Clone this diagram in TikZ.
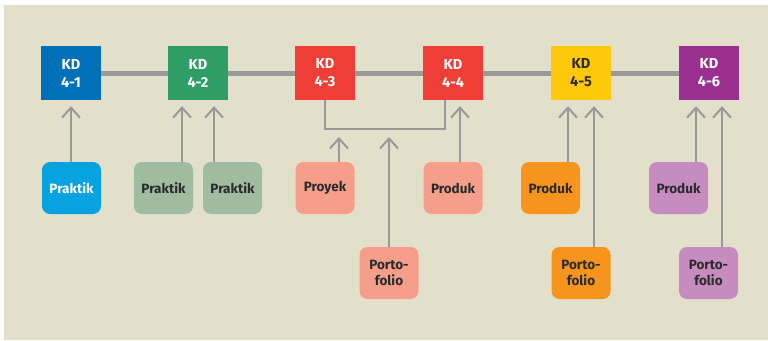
\documentclass[tikz,border=0pt]{standalone}
\usepackage{fontspec}
\setmainfont{Fira Sans}
\usetikzlibrary{arrows.meta,calc}
\definecolor{bg}{HTML}{E2DFCB}
\definecolor{lg}{HTML}{999999}
\definecolor{kdblue}{HTML}{0070B8}
\definecolor{kdgreen}{HTML}{2E9E66}
\definecolor{kdred}{HTML}{EE3E36}
\definecolor{kdyellow}{HTML}{FFC90B}
\definecolor{kdpurple}{HTML}{993090}
\definecolor{cblue}{HTML}{07A3E0}
\definecolor{csage}{HTML}{9FBBA0}
\definecolor{csalmon}{HTML}{F59F8A}
\definecolor{corange}{HTML}{F7941D}
\definecolor{clilac}{HTML}{C68BBF}
\definecolor{txt}{HTML}{2B2B2B}
\tikzset{
  kdbox/.style={draw=none, minimum width=60pt, minimum height=54pt, inner sep=0pt,
    align=center, font=\fontsize{14.5}{18}\selectfont\bfseries, text=white},
  abox/.style={draw=none, rounded corners=8pt, minimum width=59pt, minimum height=52pt,
    inner sep=0pt, align=center, font=\fontsize{13.5}{15.5}\selectfont\bfseries, text=txt},
  arr/.style={draw=lg, line width=2pt, -{Straight Barb[length=10pt,width=18pt,line width=2pt]}, shorten >=6pt},
  link/.style={draw=lg, line width=5pt},
  brk/.style={draw=lg, line width=2pt}
}
\begin{document}
\begin{tikzpicture}[x=1pt,y=-1pt]
\useasboundingbox (0,0) rectangle (768,340);
\fill[bg] (4,5) rectangle (768,340);
% KD boxes
\node[kdbox, fill=kdblue] (kd41) at (71,73) {KD\\4-1};
\node[kdbox, fill=kdgreen] (kd42) at (198,73) {KD\\4-2};
\node[kdbox, fill=kdred] (kd43) at (325,73) {KD\\4-3};
\node[kdbox, fill=kdred] (kd44) at (453,73) {KD\\4-4};
\node[kdbox, fill=kdyellow, text=txt] (kd45) at (581,73) {KD\\4-5};
\node[kdbox, fill=kdpurple] (kd46) at (709,73) {KD\\4-6};
\draw[link] (kd41.east) -- (kd42.west);
\draw[link] (kd42.east) -- (kd43.west);
\draw[link] (kd43.east) -- (kd44.west);
\draw[link] (kd44.east) -- (kd45.west);
\draw[link] (kd45.east) -- (kd46.west);
% assessment boxes
\node[abox, fill=cblue, text=white] (p1) at (71.5,188) {Praktik};
\node[abox, fill=csage] (p2) at (163.5,188) {Praktik};
\node[abox, fill=csage] (p3) at (232.5,188) {Praktik};
\node[abox, fill=csalmon] (pr) at (325,188) {Proyek};
\node[abox, fill=csalmon] (pd4) at (453,188) {Produk};
\node[abox, fill=csalmon] (pf34) at (389,273) {Porto-\\folio};
\node[abox, fill=corange] (pd5) at (550.5,188) {Produk};
\node[abox, fill=corange] (pf5) at (581,273) {Porto-\\folio};
\node[abox, fill=clilac] (pd6) at (678.5,188) {Produk};
\node[abox, fill=clilac] (pf6) at (708.5,273) {Porto-\\folio};
% bracket joining KD 4-3 and KD 4-4
\coordinate (bl) at (325,129.3);
\coordinate (br) at (445,129.3);
\draw[brk] (kd43.south) -- (bl) -- (br) -- (kd44.south -| br);
% arrows
\draw[arr] (p1.north -| 71,0) -- (kd41.south -| 71,0);
\draw[arr] (p2.north -| 182,0) -- (kd42.south -| 182,0);
\draw[arr] (p3.north -| 214,0) -- (kd42.south -| 214,0);
\draw[arr, shorten >=7.7pt] (pr.north -| 339,0) -- (bl -| 339,0);
\draw[arr, shorten >=7.7pt] (pf34.north) -- (bl -| pf34.north);
\draw[arr] (pd4.north -| 460,0) -- (kd44.south -| 460,0);
\draw[arr] (pd5.north -| 568,0) -- (kd45.south -| 568,0);
\draw[arr] (pf5.north -| 594,0) -- (kd45.south -| 594,0);
\draw[arr] (pd6.north -| 696,0) -- (kd46.south -| 696,0);
\draw[arr] (pf6.north -| 722,0) -- (kd46.south -| 722,0);
\end{tikzpicture}
\end{document}
